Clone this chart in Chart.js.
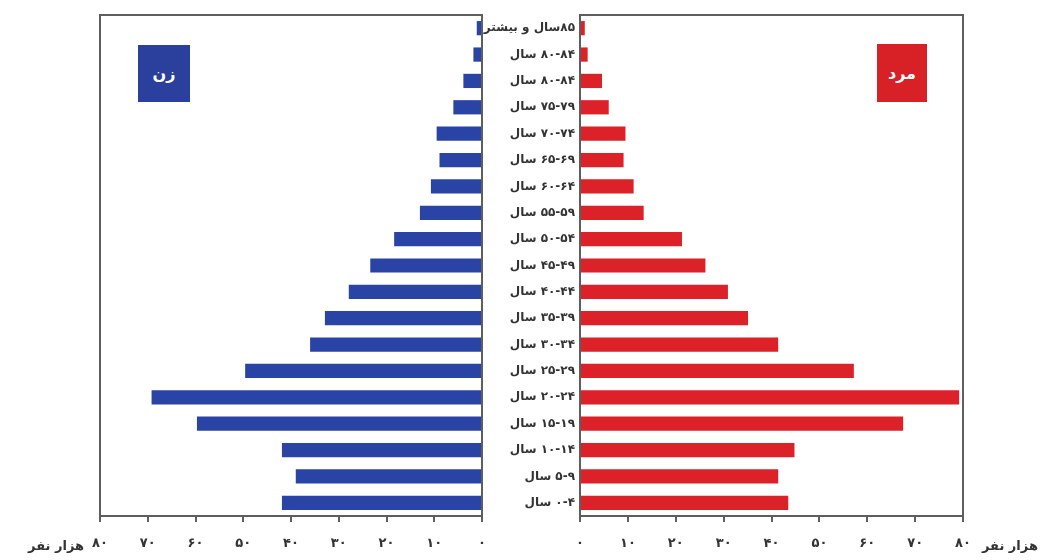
<!DOCTYPE html>
<html>
<head>
<meta charset="utf-8">
<script src="https://cdn.jsdelivr.net/npm/chart.js@4"></script>
<style>
  html, body { margin:0; padding:0; background:#fff; }
  body { width:1054px; height:560px; position:relative; overflow:hidden; font-family:"DejaVu Sans", sans-serif; }
  #cl { position:absolute; left:0; top:0; }
  #cr { position:absolute; left:470px; top:0; }
  .box { position:absolute; color:#fff; font-weight:bold; font-size:16px; display:flex; align-items:center; justify-content:center; }
  .unit { position:absolute; top:538px; font-size:13px; font-weight:bold; color:#333; white-space:nowrap; }
</style>
</head>
<body>
<canvas id="cl" width="490" height="560"></canvas>
<canvas id="cr" width="584" height="560" dir="rtl"></canvas>
<div class="box" style="left:138px;top:45px;width:52px;height:57px;background:#2b3f9c;">زن</div>
<div class="box" style="left:877px;top:44px;width:50px;height:58px;background:#d82027;">مرد</div>
<div class="unit" style="left:2px;width:82px;text-align:right;" dir="rtl">هزار نفر</div>
<div class="unit" style="left:982px;" dir="rtl">هزار نفر</div>
<script>
// Age groups, top to bottom as in the reference
const ageGroups = [
  '۸۵سال و بیشتر',
  '\u200E۸۰-۸۴\u200E سال',
  '\u200E۸۰-۸۴\u200E سال',
  '\u200E۷۵-۷۹\u200E سال',
  '\u200E۷۰-۷۴\u200E سال',
  '\u200E۶۵-۶۹\u200E سال',
  '\u200E۶۰-۶۴\u200E سال',
  '\u200E۵۵-۵۹\u200E سال',
  '\u200E۵۰-۵۴\u200E سال',
  '\u200E۴۵-۴۹\u200E سال',
  '\u200E۴۰-۴۴\u200E سال',
  '\u200E۳۵-۳۹\u200E سال',
  '\u200E۳۰-۳۴\u200E سال',
  '\u200E۲۵-۲۹\u200E سال',
  '\u200E۲۰-۲۴\u200E سال',
  '\u200E۱۵-۱۹\u200E سال',
  '\u200E۱۰-۱۴\u200E سال',
  '\u200E۵-۹\u200E سال',
  '\u200E۰-۴\u200E سال'
];
// Women (thousand persons)
const women = [1.1, 1.8, 3.9, 6.0, 9.5, 8.9, 10.7, 13.0, 18.4, 23.4, 27.9, 32.9, 36.0, 49.6, 69.2, 59.7, 41.9, 39.0, 41.9];
// Men (thousand persons)
const men = [1.0, 1.6, 4.6, 6.0, 9.5, 9.1, 11.2, 13.3, 21.3, 26.2, 30.9, 35.1, 41.4, 57.2, 79.2, 67.5, 44.8, 41.4, 43.5];
// X tick labels for 0,10,...,80
const xTickLabels = ['۰','۱۰','۲۰','۳۰','۴۰','۵۰','۶۰','۷۰','۸۰'];

const FONT = '"DejaVu Sans", sans-serif';
const frame = {
  id: 'frame',
  afterDraw(c) {
    const a = c.chartArea, ctx = c.ctx;
    ctx.save();
    ctx.strokeStyle = '#5e5e5e';
    ctx.lineWidth = 2;
    ctx.strokeRect(a.left, a.top, a.right - a.left, a.bottom - a.top);
    ctx.restore();
  }
};

function xScale(reverse) {
  return {
    type: 'linear', min: 0, max: 80, reverse: reverse,
    afterFit: s => { s.height = 44; s.paddingLeft = 0; s.paddingRight = 0; },
    grid: { drawOnChartArea: false, drawTicks: true, tickLength: 6, color: '#5e5e5e', lineWidth: 2 },
    border: { display: true, color: '#5e5e5e', width: 2 },
    ticks: {
      stepSize: 10, padding: 14, color: '#333',
      font: { family: FONT, size: 13, weight: 'bold' },
      maxRotation: 0, autoSkip: false,
      callback: v => xTickLabels[Math.round(v / 10)]
    }
  };
}

const common = {
  responsive: false,
  animation: false,
  indexAxis: 'y',
  plugins: { legend: { display: false }, tooltip: { enabled: false } },
};

new Chart(document.getElementById('cl'), {
  type: 'bar',
  data: { labels: ageGroups, datasets: [{ data: women, backgroundColor: '#2a44a6', categoryPercentage: 1, barPercentage: 0.54 }] },
  options: Object.assign({}, common, {
    layout: { padding: { left: 100, right: 8, top: 15, bottom: 0 } },
    scales: {
      x: xScale(true),
      y: { display: false }
    }
  }),
  plugins: [frame]
});

new Chart(document.getElementById('cr'), {
  type: 'bar',
  data: { labels: ageGroups, datasets: [{ data: men, backgroundColor: '#dc2128', categoryPercentage: 1, barPercentage: 0.54 }] },
  options: Object.assign({}, common, {
    layout: { padding: { left: 0, right: 91, top: 15, bottom: 0 } },
    scales: {
      x: xScale(false),
      y: {
        position: 'left',
        afterFit: s => { s.width = 110; },
        grid: { display: false, drawTicks: false },
        border: { display: true, color: '#5e5e5e', width: 2 },
        ticks: { padding: 5, color: '#333', font: { family: FONT, size: 12, weight: 'bold' }, autoSkip: false }
      }
    }
  }),
  plugins: [frame]
});
</script>
</body>
</html>
